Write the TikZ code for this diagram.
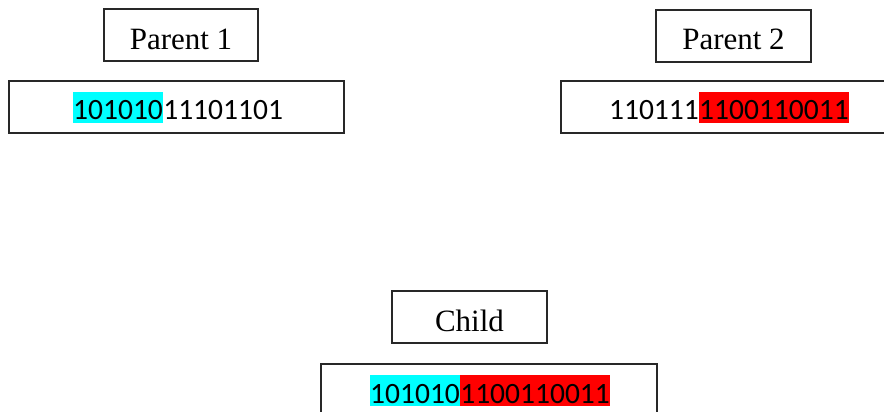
\documentclass[tikz,border=0pt]{standalone}
\usepackage{fontspec}
\setmainfont{Liberation Serif}
\newfontfamily\calib{Carlito}
\definecolor{hcyan}{RGB}{0,255,255}
\definecolor{hred}{RGB}{255,0,0}
\definecolor{edge}{RGB}{40,40,40}
\begin{document}
\begin{tikzpicture}[x=1pt,y=-1pt,
  labelbox/.style={draw=edge,line width=1.1pt},
  bitsbox/.style={draw=edge,line width=1.1pt},
  labeltext/.style={inner sep=0pt,anchor=base,font=\fontsize{31}{31}\selectfont},
  bits/.style={inner sep=0pt,anchor=base west,text height=28pt,text depth=3pt,font=\calib\fontsize{29.5}{29.5}\selectfont},
  bitsend/.style={bits,anchor=base east}]
\useasboundingbox (0,0) rectangle (884,412);
\clip (0,0) rectangle (884,412);
\fill[white] (0,0) rectangle (884,412);
% Parent 1
\draw[labelbox] (104,9) rectangle (258,61);
\node[labeltext] (p1) at (181,49.5) {Parent 1};
\draw[bitsbox] (9,81) rectangle (344,133);
\node[bits,fill=hcyan] (p1a) at (73,120) {101010};
\node[bits] (p1b) at (p1a.base east) {11101101};
% Parent 2
\draw[labelbox] (656,10) rectangle (811,62);
\node[labeltext] (p2) at (733.5,50) {Parent 2};
\draw[bitsbox] (561,81) rectangle (900,133);
\node[bits,fill=hred] (p2b) at (699,120) {1100110011};
\node[bitsend] (p2a) at (p2b.base west) {110111};
% Child
\draw[labelbox] (392,291) rectangle (547,343);
\node[labeltext] (c) at (469.5,331.5) {Child};
\draw[bitsbox] (321,364) rectangle (657,430);
\node[bits,fill=hcyan] (ca) at (370,403) {101010};
\node[bits,fill=hred] (cb) at (ca.base east) {1100110011};
\end{tikzpicture}
\end{document}
